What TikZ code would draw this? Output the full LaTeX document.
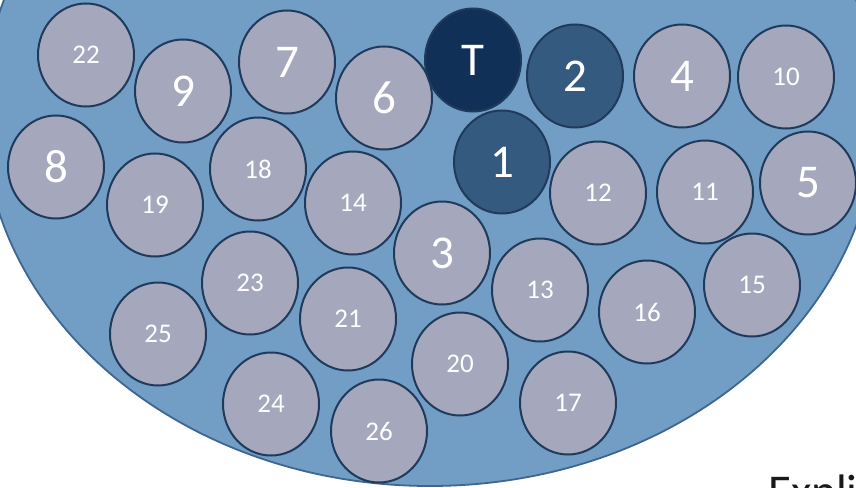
\documentclass[tikz,border=0pt]{standalone}
\usepackage{fontspec}
\setmainfont{Carlito}
\usepackage{tikz}
\usetikzlibrary{shapes.geometric}
\definecolor{bundleblue}{HTML}{729DC5}
\definecolor{bundleedge}{HTML}{3D6691}
\definecolor{cellgray}{HTML}{A5A8BC}
\definecolor{celledge}{HTML}{1F3A5A}
\definecolor{celldark}{HTML}{113057}
\definecolor{cellmid}{HTML}{355A80}
\tikzset{
  % --- Faisceau ---------------------------------------------
  bundle/.style={draw=bundleedge, line width=1.8pt, fill=bundleblue},
  % --- Brins ------------------------------------------------
  wire/.style={draw=celledge, ellipse, fill=cellgray, line width=2pt,
    minimum width=96pt, minimum height=103pt, inner sep=0pt,
    text=white, font=\fontsize{27}{27}\selectfont},
  wirebig/.style={wire, font=\fontsize{47}{47}\selectfont},
  wirelead/.style={wirebig, fill=cellmid},
  wiretop/.style={wirebig, fill=celldark},
  % --- Texte ------------------------------------------------
  caption/.style={anchor=base west, inner sep=0pt, text=black!90,
    font=\fontsize{47}{47}\selectfont}
}
\begin{document}
\begin{tikzpicture}[x=1pt, y=-1pt]
  \useasboundingbox (0,0) rectangle (856,487);

  % --- Gaine -------------------------------------------------
  \draw[bundle] (430,113) ellipse [x radius=447, y radius=373];

  % --- Rang du haut ------------------------------------------
  \node[wire]     (c22) at (86,55)   {22};
  \node[wirebig]  (c9)  at (183,91)  {9};
  \node[wirebig]  (c7)  at (287,62)  {7};
  \node[wirebig]  (c6)  at (384,98)  {6};
  \node[wiretop]  (cT)  at (473,60)  {T};
  \node[wirelead] (c2)  at (575,76)  {2};
  \node[wirebig]  (c4)  at (682,76)  {4};
  \node[wire]     (c10) at (786,77)  {10};

  % --- Deuxieme rang -----------------------------------------
  \node[wirebig]  (c8)  at (56,167)  {8};
  \node[wire]     (c19) at (155,205) {19};
  \node[wire]     (c18) at (258,169) {18};
  \node[wire]     (c14) at (353,203) {14};
  \node[wirelead] (c1)  at (502,162) {1};
  \node[wire]     (c12) at (598,193) {12};
  \node[wire]     (c11) at (705,192) {11};
  \node[wirebig]  (c5)  at (808,183) {5};

  % --- Troisieme rang ----------------------------------------
  \node[wirebig]  (c3)  at (442,253) {3};
  \node[wire]     (c23) at (250,283) {23};
  \node[wire]     (c13) at (540,290) {13};
  \node[wire]     (c16) at (647,312) {16};
  \node[wire]     (c15) at (752,285) {15};

  % --- Rangs du bas ------------------------------------------
  \node[wire]     (c25) at (158,334) {25};
  \node[wire]     (c21) at (348,319) {21};
  \node[wire]     (c20) at (460,364) {20};
  \node[wire]     (c24) at (271,404) {24};
  \node[wire]     (c26) at (379,431) {26};
  \node[wire]     (c17) at (568,403) {17};

  % --- Legende -----------------------------------------------
  \node[caption]  (expl) at (768,507) {Expli};

\end{tikzpicture}
\end{document}
